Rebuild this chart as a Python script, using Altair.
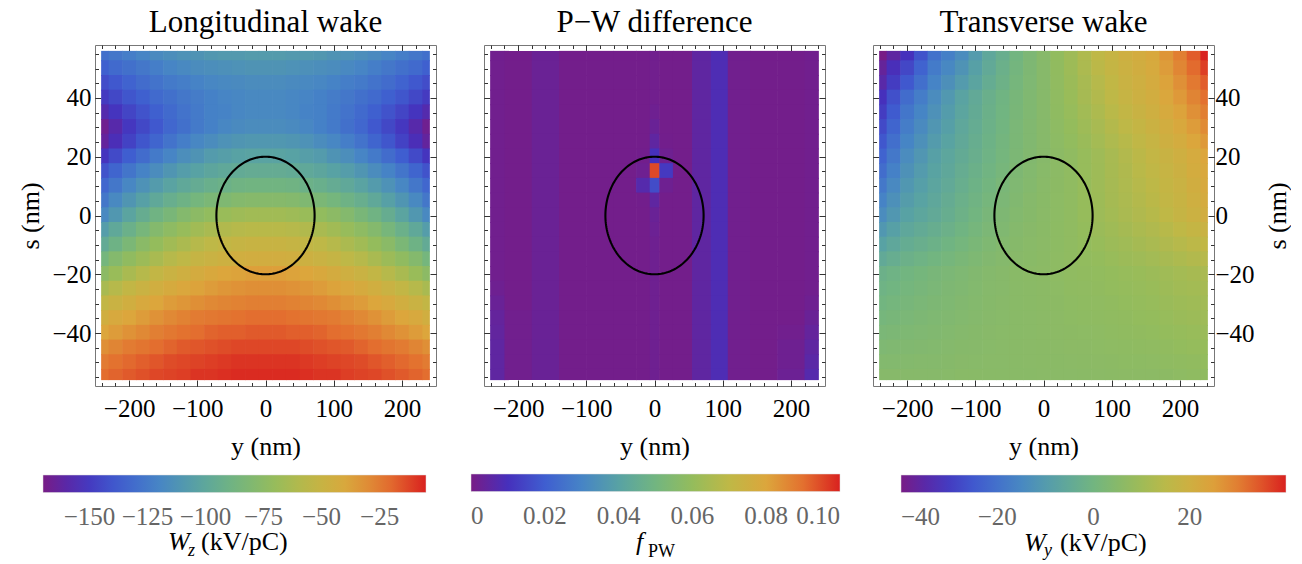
import numpy as np
import pandas as pd
import altair as alt

FONT = "Liberation Serif"

# ---------------- data ----------------
S_ROWS = [55, 50, 45, 40, 35, 30, 25, 20, 15, 10, 5, 0, -5, -10, -15, -20, -25, -30, -35, -40, -45, -50, -55]
Y_COLS = [-240, -220, -200, -180, -160, -140, -120, -100, -80, -60, -40, -20, 0,
          20, 40, 60, 80, 100, 120, 140, 160, 180, 200, 220, 240]
Y_COLS_PW = [-240, -200, -160, -120, -80, -40, -14, 0, 14, 40, 70, 95, 120, 160, 200, 240]

# Longitudinal wake W_z (kV/pC), rows follow S_ROWS, columns follow Y_COLS
WZ = [
    [-129, -126, -123, -120, -117, -115, -113, -112, -110, -109, -109, -108, -108, -108, -109, -109, -110, -112, -113, -115, -117, -120, -123, -126, -129],
    [-136, -132, -129, -126, -123, -120, -118, -116, -115, -114, -113, -112, -112, -112, -113, -114, -115, -116, -118, -120, -123, -126, -129, -132, -136],
    [-143, -139, -135, -131, -128, -125, -123, -121, -119, -118, -117, -116, -116, -116, -117, -118, -119, -121, -123, -125, -128, -131, -135, -139, -143],
    [-150, -145, -140, -136, -132, -129, -126, -124, -122, -120, -119, -118, -118, -118, -119, -120, -122, -124, -126, -129, -132, -136, -140, -145, -150],
    [-158, -152, -146, -141, -136, -132, -128, -125, -122, -121, -119, -118, -118, -118, -119, -121, -122, -125, -128, -132, -136, -141, -146, -152, -158],
    [-167, -159, -151, -145, -139, -133, -129, -125, -122, -119, -117, -116, -116, -116, -117, -119, -122, -125, -129, -133, -139, -145, -151, -159, -167],
    [-163, -155, -147, -140, -134, -128, -123, -119, -116, -113, -111, -110, -110, -110, -111, -113, -116, -119, -123, -128, -134, -140, -147, -155, -163],
    [-152, -144, -137, -131, -125, -120, -115, -112, -108, -106, -104, -103, -103, -103, -104, -106, -108, -112, -115, -120, -125, -131, -137, -144, -152],
    [-141, -134, -127, -121, -116, -111, -107, -104, -101, -99, -97, -96, -96, -96, -97, -99, -101, -104, -107, -111, -116, -121, -127, -134, -141],
    [-133, -126, -119, -113, -108, -103, -99, -96, -93, -91, -89, -88, -88, -88, -89, -91, -93, -96, -99, -103, -108, -113, -119, -126, -133],
    [-126, -118, -111, -105, -99, -94, -90, -86, -83, -81, -79, -78, -78, -78, -79, -81, -83, -86, -90, -94, -99, -105, -111, -118, -126],
    [-118, -110, -102, -95, -89, -84, -79, -75, -72, -69, -67, -66, -66, -66, -67, -69, -72, -75, -79, -84, -89, -95, -102, -110, -118],
    [-107, -99, -92, -85, -79, -74, -70, -66, -63, -60, -58, -57, -57, -57, -58, -60, -63, -66, -70, -74, -79, -85, -92, -99, -107],
    [-97, -90, -83, -76, -71, -66, -62, -58, -55, -53, -51, -50, -50, -50, -51, -53, -55, -58, -62, -66, -71, -76, -83, -90, -97],
    [-86, -79, -73, -68, -63, -58, -55, -51, -49, -47, -45, -44, -44, -44, -45, -47, -49, -51, -55, -58, -63, -68, -73, -79, -86],
    [-75, -69, -63, -58, -53, -49, -46, -43, -40, -38, -37, -36, -36, -36, -37, -38, -40, -43, -46, -49, -53, -58, -63, -69, -75],
    [-63, -58, -53, -49, -45, -42, -39, -37, -35, -33, -32, -31, -31, -31, -32, -33, -35, -37, -39, -42, -45, -49, -53, -58, -63],
    [-53, -49, -45, -41, -38, -35, -33, -31, -29, -28, -27, -26, -26, -26, -27, -28, -29, -31, -33, -35, -38, -41, -45, -49, -53],
    [-45, -41, -38, -35, -32, -29, -27, -25, -24, -23, -22, -21, -21, -21, -22, -23, -24, -25, -27, -29, -32, -35, -38, -41, -45],
    [-38, -35, -32, -29, -26, -24, -22, -21, -19, -18, -18, -17, -17, -17, -18, -18, -19, -21, -22, -24, -26, -29, -32, -35, -38],
    [-31, -28, -25, -23, -21, -19, -17, -16, -15, -14, -13, -13, -13, -13, -13, -14, -15, -16, -17, -19, -21, -23, -25, -28, -31],
    [-25, -22, -20, -18, -16, -14, -13, -12, -11, -10, -9, -9, -9, -9, -9, -10, -11, -12, -13, -14, -16, -18, -20, -22, -25],
    [-21, -19, -17, -15, -13, -12, -11, -9, -9, -8, -7, -7, -7, -7, -7, -8, -9, -9, -11, -12, -13, -15, -17, -19, -21],
]

# P-W difference f_PW, rows follow S_ROWS, columns follow Y_COLS_PW
FPW = [
    [0.0015, 0.001, 0.0028, 0.001, 0.001, 0.001, 0.001, 0.0015, 0.001, 0.001, 0.005, 0.0085, 0.0015, 0.001, 0.001, 0.0015],
    [0.0015, 0.001, 0.0028, 0.001, 0.001, 0.001, 0.001, 0.0015, 0.001, 0.001, 0.005, 0.0085, 0.0015, 0.001, 0.001, 0.0015],
    [0.0015, 0.001, 0.0028, 0.001, 0.001, 0.001, 0.001, 0.0015, 0.001, 0.001, 0.005, 0.0085, 0.0015, 0.001, 0.001, 0.0015],
    [0.0015, 0.001, 0.0028, 0.001, 0.001, 0.001, 0.001, 0.0015, 0.001, 0.001, 0.005, 0.0085, 0.0015, 0.001, 0.001, 0.0015],
    [0.0015, 0.001, 0.0028, 0.001, 0.001, 0.001, 0.001, 0.002, 0.001, 0.001, 0.005, 0.0085, 0.0015, 0.001, 0.001, 0.0015],
    [0.0015, 0.001, 0.0028, 0.001, 0.001, 0.001, 0.001, 0.003, 0.001, 0.001, 0.005, 0.0085, 0.0015, 0.001, 0.001, 0.0015],
    [0.0015, 0.001, 0.0028, 0.001, 0.001, 0.001, 0.001, 0.005, 0.0012, 0.001, 0.005, 0.0085, 0.0015, 0.001, 0.001, 0.0015],
    [0.0015, 0.001, 0.0028, 0.001, 0.001, 0.001, 0.0012, 0.01, 0.002, 0.001, 0.005, 0.0085, 0.0015, 0.001, 0.001, 0.0015],
    [0.0015, 0.001, 0.0028, 0.001, 0.001, 0.001, 0.002, 0.095, 0.012, 0.001, 0.005, 0.0085, 0.0015, 0.001, 0.001, 0.0015],
    [0.0015, 0.001, 0.0028, 0.001, 0.001, 0.001, 0.007, 0.016, 0.002, 0.001, 0.005, 0.0085, 0.0015, 0.001, 0.001, 0.0015],
    [0.0015, 0.001, 0.0028, 0.001, 0.001, 0.001, 0.0012, 0.005, 0.001, 0.001, 0.005, 0.0085, 0.0015, 0.001, 0.001, 0.0015],
    [0.0015, 0.001, 0.0028, 0.001, 0.001, 0.001, 0.001, 0.003, 0.001, 0.001, 0.005, 0.0085, 0.0015, 0.001, 0.001, 0.0015],
    [0.0015, 0.001, 0.0028, 0.001, 0.001, 0.001, 0.001, 0.0025, 0.001, 0.001, 0.005, 0.0085, 0.0015, 0.001, 0.001, 0.0015],
    [0.0015, 0.001, 0.0028, 0.001, 0.001, 0.001, 0.001, 0.002, 0.001, 0.001, 0.005, 0.0085, 0.0015, 0.001, 0.001, 0.0015],
    [0.0015, 0.001, 0.0028, 0.001, 0.001, 0.001, 0.001, 0.002, 0.001, 0.001, 0.005, 0.0085, 0.0015, 0.001, 0.001, 0.0015],
    [0.0015, 0.001, 0.0028, 0.001, 0.001, 0.001, 0.001, 0.002, 0.001, 0.001, 0.005, 0.0085, 0.0015, 0.001, 0.001, 0.0015],
    [0.002, 0.001, 0.0028, 0.001, 0.001, 0.001, 0.001, 0.002, 0.001, 0.001, 0.005, 0.0085, 0.0015, 0.001, 0.001, 0.0015],
    [0.003, 0.001, 0.0028, 0.001, 0.001, 0.001, 0.001, 0.002, 0.001, 0.001, 0.005, 0.0085, 0.0015, 0.001, 0.001, 0.002],
    [0.004, 0.0015, 0.003, 0.001, 0.001, 0.001, 0.001, 0.002, 0.001, 0.001, 0.005, 0.0085, 0.0015, 0.001, 0.001, 0.003],
    [0.0045, 0.0015, 0.003, 0.001, 0.001, 0.001, 0.001, 0.002, 0.001, 0.001, 0.005, 0.0085, 0.0015, 0.001, 0.0015, 0.004],
    [0.005, 0.0015, 0.003, 0.001, 0.001, 0.001, 0.001, 0.002, 0.001, 0.001, 0.005, 0.0085, 0.0015, 0.001, 0.002, 0.005],
    [0.005, 0.0015, 0.003, 0.001, 0.001, 0.001, 0.001, 0.002, 0.001, 0.001, 0.005, 0.0085, 0.0015, 0.001, 0.002, 0.006],
    [0.005, 0.0015, 0.003, 0.001, 0.001, 0.001, 0.001, 0.002, 0.001, 0.001, 0.005, 0.0085, 0.0015, 0.001, 0.0025, 0.007],
]

# Transverse wake W_y (kV/pC), rows follow S_ROWS, columns follow Y_COLS
WY = [
    [-40, -36, -32, -26, -20, -17, -14, -10, -6, -3, 0, 2.5, 5, 7.5, 10, 13, 16, 18, 20, 21.5, 23, 26.5, 30, 34, 40],
    [-37, -32.5, -28, -23, -18, -15, -12, -8.5, -5, -2.3, 0.5, 2.8, 5, 7.4, 9.7, 12.5, 15.2, 17.3, 19.3, 20.8, 22.3, 25.5, 28.7, 32.5, 37],
    [-35, -30, -25, -20.5, -16, -13, -10, -7, -4, -1.5, 1, 3, 5, 7.2, 9.3, 11.8, 14.3, 16.5, 18.7, 20.2, 21.7, 24.5, 27.3, 30.7, 34],
    [-32, -26.5, -21, -17.5, -14, -10.8, -7.5, -5, -2.5, -0.5, 1.5, 3.3, 5, 7, 9, 11.3, 13.5, 15.8, 18, 19.5, 21, 23.5, 26, 29, 32],
    [-30, -24.5, -19, -15.8, -12.6, -9.7, -6.8, -4.5, -2.1, -0.2, 1.7, 3.4, 5, 6.8, 8.5, 10.6, 12.6, 14.8, 16.9, 18.5, 20, 22.3, 24.5, 27.3, 30],
    [-27.5, -22.5, -17.5, -14.4, -11.3, -8.7, -6, -3.9, -1.8, 0.1, 2, 3.5, 5, 6.5, 8, 9.9, 11.8, 13.8, 15.8, 17.4, 19, 21, 23, 25.5, 28],
    [-25.3, -20.5, -15.8, -12.9, -9.9, -7.6, -5.3, -3.4, -1.4, 0.4, 2.2, 3.6, 5, 6.3, 7.5, 9.2, 10.9, 12.8, 14.6, 16.3, 18, 19.8, 21.5, 23.8, 26],
    [-23, -18.5, -14, -11.3, -8.5, -6.5, -4.5, -2.8, -1, 0.7, 2.4, 3.7, 5, 6, 7, 8.5, 10, 11.8, 13.5, 15.3, 17, 18.5, 20, 22, 24],
    [-20.8, -16.7, -12.5, -10, -7.6, -5.7, -3.8, -2.1, -0.4, 1.2, 2.8, 4, 5.2, 6.1, 7, 8.5, 9.9, 11.5, 13.1, 14.8, 16.4, 17.9, 19.4, 21.4, 23.3],
    [-18.5, -14.8, -11, -8.9, -6.8, -5, -3.1, -1.4, 0.3, 1.8, 3.2, 4.3, 5.3, 6.2, 7, 8.4, 9.8, 11.3, 12.8, 14.3, 15.7, 17.3, 18.8, 20.7, 22.5],
    [-16.3, -12.9, -9.5, -7.7, -5.9, -4.1, -2.3, -0.7, 1, 2.3, 3.6, 4.6, 5.5, 6.3, 7, 8.4, 9.7, 11.1, 12.4, 13.8, 15.1, 16.7, 18.2, 20, 21.8],
    [-14, -11, -8, -6.5, -5, -3.3, -1.6, 0, 1.6, 2.8, 4, 4.8, 5.6, 6.3, 7, 8.3, 9.6, 10.8, 12, 13.2, 14.4, 16, 17.6, 19.3, 21],
    [-11, -8.5, -6, -4.7, -3.4, -2, -0.5, 0.9, 2.3, 3.4, 4.4, 5.1, 5.7, 6.4, 7, 8, 9.1, 10.1, 11.1, 12.2, 13.2, 14.6, 16, 17.4, 18.8],
    [-8, -6, -4, -2.9, -1.7, -0.5, 0.7, 1.9, 3.1, 4, 4.8, 5.3, 5.8, 6.4, 7, 7.8, 8.6, 9.5, 10.3, 11.2, 12, 13.2, 14.3, 15.4, 16.5],
    [-5, -3.5, -2, -1, 0, 1, 1.9, 2.9, 3.8, 4.5, 5.1, 5.5, 5.9, 6.5, 7, 7.5, 8, 8.7, 9.4, 10, 10.7, 11.7, 12.7, 13.5, 14.3],
    [-2, -1, 0, 0.8, 1.6, 2.3, 3, 3.8, 4.5, 5, 5.5, 5.8, 6, 6.5, 7, 7.3, 7.5, 8, 8.5, 9, 9.5, 10.3, 11, 11.5, 12],
    [-1, -0.2, 0.7, 1.4, 2.1, 2.8, 3.4, 4, 4.6, 5, 5.5, 5.7, 5.9, 6.3, 6.8, 7, 7.3, 7.7, 8.1, 8.5, 9, 9.7, 10.4, 10.8, 11.3],
    [0, 0.7, 1.4, 2, 2.6, 3.1, 3.7, 4.2, 4.8, 5.1, 5.5, 5.7, 5.9, 6.2, 6.6, 6.8, 7, 7.4, 7.8, 8.1, 8.5, 9.1, 9.7, 10.1, 10.6],
    [1, 1.5, 2.1, 2.6, 3.1, 3.6, 4.1, 4.5, 4.9, 5.2, 5.5, 5.6, 5.8, 6.1, 6.4, 6.6, 6.8, 7.1, 7.4, 7.7, 8, 8.5, 9.1, 9.5, 9.9],
    [2, 2.4, 2.9, 3.2, 3.5, 4, 4.4, 4.8, 5.1, 5.3, 5.5, 5.6, 5.8, 6, 6.2, 6.3, 6.5, 6.8, 7.1, 7.3, 7.5, 8, 8.4, 8.8, 9.1],
    [3, 3.3, 3.6, 3.8, 4, 4.4, 4.8, 5, 5.2, 5.3, 5.5, 5.6, 5.7, 5.8, 6, 6.1, 6.3, 6.5, 6.7, 6.8, 7, 7.4, 7.8, 8.1, 8.4],
    [4, 4.1, 4.3, 4.4, 4.5, 4.8, 5.1, 5.2, 5.4, 5.4, 5.5, 5.6, 5.7, 5.7, 5.8, 5.9, 6, 6.2, 6.4, 6.4, 6.5, 6.8, 7.1, 7.4, 7.7],
    [5, 5, 5, 5, 5, 5.2, 5.5, 5.5, 5.5, 5.5, 5.5, 5.5, 5.6, 5.6, 5.6, 5.7, 5.8, 5.9, 6, 6, 6, 6.2, 6.5, 6.8, 7],
]

ELLIPSE_CENTER = (0.0, 0.0)      # (y, s) nm
ELLIPSE_RADII = (72.0, 20.0)     # (y, s) nm

X_MAJOR = [-200, -100, 0, 100, 200]
X_MINOR = list(range(-240, 241, 20))
S_MAJOR = [-40, -20, 0, 20, 40]
S_MINOR = list(range(-55, 56, 5))

WZ_TICKS = [-150, -125, -100, -75, -50, -25]
FPW_TICKS = [0, 0.02, 0.04, 0.06, 0.08, 0.10]
WY_TICKS = [-40, -20, 0, 20]

RAINBOW = ["#781c86", "#4630bc", "#3f5ed0", "#4684c6", "#58a2a4", "#72b580",
           "#94bc5c", "#bfb846", "#dca63c", "#e3702f", "#d9211f"]

# ---------------- helpers ----------------
X_EXT, S_EXT = 241.0, 56.0
X_OVL, S_OVL = 0.9, 0.3          # tiny overlap between neighbouring cells (hides seams)
W, H = 341, 341


def cells(cols, rows, vals):
    xe = [-X_EXT] + [(a + b) / 2 for a, b in zip(cols[:-1], cols[1:])] + [X_EXT]
    recs = []
    n, m = len(rows), len(cols)
    for i, s in enumerate(rows):
        s_hi = S_EXT if i == 0 else (rows[i - 1] + s) / 2 + S_OVL
        s_lo = -S_EXT if i == n - 1 else (rows[i + 1] + s) / 2
        for j in range(m):
            x1 = xe[j + 1] + (X_OVL if j < m - 1 else 0)
            recs.append(dict(x0=xe[j], x1=x1, s0=s_lo, s1=s_hi, v=vals[i][j]))
    return pd.DataFrame(recs)


t = np.linspace(0, 2 * np.pi, 181)
ELL = pd.DataFrame({
    "ey": ELLIPSE_CENTER[0] + ELLIPSE_RADII[0] * np.cos(t),
    "es": ELLIPSE_CENTER[1] + ELLIPSE_RADII[1] * np.sin(t),
    "i": np.arange(len(t)),
})
ONE = pd.DataFrame({"k": [0]})


def ax(orient, values, size, labels=False, title=None, **kw):
    return alt.Axis(orient=orient, values=values, tickSize=size, offset=-size,
                    labels=labels, domain=False, grid=False, ticks=True,
                    tickColor="#333333", tickWidth=1, title=title,
                    minExtent=0, maxExtent=200,
                    labelFont=FONT, labelFontSize=25, labelColor="black",
                    labelOverlap=False,
                    titleFont=FONT, titleFontSize=26, titleFontWeight="normal",
                    titleColor="black", **kw)


def txt(s, x, y, size, style="normal"):
    return alt.Chart(ONE).mark_text(text=s, font=FONT, fontSize=size, fontStyle=style,
                                    align="left", baseline="alphabetic",
                                    color="black").encode(x=alt.value(x), y=alt.value(y))


PANELS = [
    dict(title="Longitudinal wake", cols=Y_COLS, vals=WZ, domain=(-170, -5),
         ticks=WZ_TICKS, lx=-52, ly=430, llen=383, side="left", expr=None,
         texts=[("W", 73, 505, 26, "italic"), ("z", 93, 511, 18, "italic"),
                ("(kV/pC)", 106, 505, 26, "normal")]),
    dict(title="P\u2212W difference", cols=Y_COLS_PW, vals=FPW, domain=(0, 0.1),
         ticks=FPW_TICKS, lx=-13, ly=429, llen=369, side=None,
         expr="datum.value == 0 ? '0' : format(datum.value, '.2f')",
         texts=[("f", 152, 505, 26, "italic"), ("PW", 164, 512, 18, "normal")]),
    dict(title="Transverse wake", cols=Y_COLS, vals=WY, domain=(-40, 40),
         ticks=WY_TICKS, lx=28, ly=430, llen=385, side="right", expr=None,
         texts=[("W", 151, 506, 26, "italic"), ("y", 171, 511, 18, "italic"),
                ("(kV/pC)", 187, 506, 26, "normal")]),
]


def make_panel(p):
    df = cells(p["cols"], S_ROWS, p["vals"])
    lo, hi = p["domain"]
    cscale = alt.Scale(domain=[float(v) for v in np.linspace(lo, hi, len(RAINBOW))],
                       range=RAINBOW, interpolate="rgb")
    xs = alt.Scale(domain=[-250, 250], nice=False, zero=False)
    ys = alt.Scale(domain=[-58, 58], nice=False, zero=False)

    legend_kw = dict(type="gradient", orient="none", legendX=p["lx"], legendY=p["ly"],
                     direction="horizontal",
                     gradientLength=p["llen"], gradientThickness=17.5, values=p["ticks"],
                     labelFont=FONT, labelFontSize=25, labelColor="#666666", labelOffset=12,
                     labelAlign="center", labelOverlap=False, padding=0,
                     gradientStrokeColor="#dddddd", gradientStrokeWidth=0.5, title=None)
    if p["expr"]:
        legend_kw["labelExpr"] = p["expr"]

    left_lab = p["side"] == "left"
    right_lab = p["side"] == "right"
    left_major = ax("left", S_MAJOR, 6, labels=left_lab, title="s (nm)" if left_lab else None,
                    labelPadding=4, titlePadding=8)
    right_kw = dict(labelPadding=1, titlePadding=10)
    if right_lab:
        right_kw.update(titleAngle=270, titleBaseline="top")
    right_major = ax("right", S_MAJOR, 6, labels=right_lab,
                     title="s (nm)" if right_lab else None, **right_kw)

    heat = alt.Chart(df).mark_rect().encode(
        x=alt.X("x0:Q", scale=xs, axis=ax("bottom", X_MAJOR, 6, labels=True, title="y (nm)",
                                          labelPadding=10, titlePadding=12)),
        x2="x1:Q",
        y=alt.Y("s0:Q", scale=ys, axis=left_major),
        y2="s1:Q",
        color=alt.Color("v:Q", scale=cscale, legend=alt.Legend(**legend_kw)),
    )
    ell = alt.Chart(ELL).mark_line(color="black", strokeWidth=2.1).encode(
        x=alt.X("ey:Q", scale=xs, axis=ax("bottom", X_MINOR, 3.5)),
        y=alt.Y("es:Q", scale=ys, axis=ax("left", S_MINOR, 3.5)),
        order="i:Q",
    )
    inv1 = alt.Chart(ELL).mark_line(opacity=0).encode(
        x=alt.X("ey:Q", scale=xs, axis=ax("top", X_MAJOR, 6)),
        y=alt.Y("es:Q", scale=ys, axis=right_major),
        order="i:Q",
    )
    inv2 = alt.Chart(ELL).mark_line(opacity=0).encode(
        x=alt.X("ey:Q", scale=xs, axis=ax("top", X_MINOR, 3.5)),
        y=alt.Y("es:Q", scale=ys, axis=ax("right", S_MINOR, 3.5)),
        order="i:Q",
    )
    texts = [txt(*tt) for tt in p["texts"]]
    return alt.layer(heat, ell, inv1, inv2, *texts).resolve_axis(
        x="independent", y="independent"
    ).properties(
        width=W, height=H,
        title=alt.TitleParams(text=p["title"], font=FONT, fontSize=31, fontWeight="normal",
                              color="black", offset=-18, baseline="alphabetic",
                              frame="group", anchor="middle"),
    )


chart = alt.hconcat(*[make_panel(p) for p in PANELS], spacing=48, bounds="flush").resolve_scale(
    color="independent"
).properties(
    padding={"left": 17, "top": 6, "right": 0, "bottom": 0}
).configure_view(
    stroke="#777777", strokeWidth=1
).configure_legend(
    labelFont=FONT, labelFontSize=25, labelColor="#666666"
)

chart.save("out.html", embed_options={"renderer": "svg", "actions": False})
